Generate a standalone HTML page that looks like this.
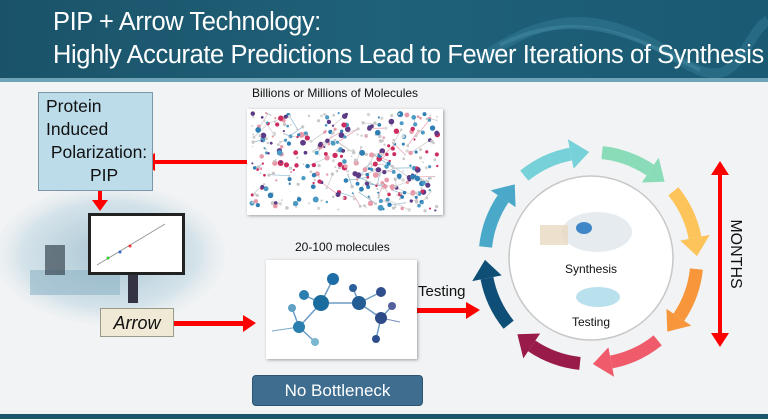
<!DOCTYPE html>
<html><head><meta charset="utf-8">
<style>
*{margin:0;padding:0;box-sizing:border-box}
body{width:768px;height:419px;overflow:hidden;font-family:"Liberation Sans",sans-serif;background:#f1f3f4;position:relative}
.hdr{position:absolute;left:0;top:0;width:768px;height:78px;background:linear-gradient(90deg,#1a5369 0%,#1f6179 50%,#1a5a72 100%)}
.hdr2{position:absolute;left:0;top:78px;width:768px;height:4px;background:#6ea3b8}
.t{position:absolute;left:53px;color:#fff;font-size:24.5px;white-space:nowrap;letter-spacing:-0.4px;transform-origin:0 0}
.lab{position:absolute;font-size:12px;color:#111;white-space:nowrap}
.pip{position:absolute;left:38px;top:92px;width:115px;height:99px;background:#bddcea;border:1px solid #7b98a8;font-size:17.5px;color:#111;line-height:23px;padding:2px 0 0 7px}
.arrowbox{position:absolute;left:100px;top:308px;width:74px;height:29px;background:#efe9d6;border:1px solid #9a9a8a;font-style:italic;font-size:18px;text-align:center;line-height:28px;color:#111}
.btn{position:absolute;left:252px;top:375px;width:171px;height:31px;background:#3e6d90;border:1px solid #2c5574;border-radius:4px;color:#fff;font-size:17px;text-align:center;line-height:30px}
.img{position:absolute;background:#fff;box-shadow:1px 1px 3px rgba(0,0,0,.35)}
</style></head><body>
<div class="hdr"><svg width="768" height="78" style="position:absolute;left:0;top:0"><path d="M480 60 C560 0 620 20 680 60 S740 40 768 20" stroke="#3f8aa3" stroke-width="10" fill="none" opacity=".35"/><path d="M500 45 C580 5 640 40 700 70" stroke="#5aa0b6" stroke-width="4" fill="none" opacity=".3"/></svg></div>
<div class="hdr2"></div>
<div class="t" style="top:8px;transform:scale(1.04,1.05)">PIP + Arrow Technology:</div>
<div class="t" style="top:41px;transform:scale(1.04,1.05)">Highly Accurate Predictions Lead to Fewer Iterations of Synthesis</div>
<div style="position:absolute;left:0;top:414px;width:768px;height:5px;background:#1c566c"></div>

<svg width="768" height="419" style="position:absolute;left:0;top:0" id="s">
<defs><radialGradient id="lg" cx="50%" cy="50%" r="55%"><stop offset="0" stop-color="#a9c6d3"/><stop offset=".7" stop-color="#d5e3ea"/><stop offset="1" stop-color="#f1f3f4" stop-opacity="0"/></radialGradient></defs>
<ellipse cx="110" cy="255" rx="115" ry="70" fill="url(#lg)"/>
<rect x="30" y="270" width="90" height="25" fill="#8fb4c6" opacity=".6"/>
<rect x="45" y="245" width="20" height="30" fill="#3a4a55" opacity=".7"/>
<rect x="128" y="275" width="10" height="28" fill="#334"/>
<rect x="88" y="213" width="97" height="62" fill="#222"/>
<rect x="91" y="216" width="91" height="56" fill="#fff"/>
<line x1="97" y1="265" x2="165" y2="224" stroke="#999" stroke-width="1"/>
<circle cx="130" cy="246" r="1.5" fill="#e33"/><circle cx="120" cy="252" r="1.5" fill="#36c"/><circle cx="108" cy="258" r="1.5" fill="#3c3"/>
<rect x="152" y="160" width="120" height="4" fill="#f00"/><polygon points="155,153 155,171 140,162" fill="#f00"/>
<rect x="98" y="187" width="4" height="14" fill="#f00"/><polygon points="92,200 108,200 100,211" fill="#f00"/>
<rect x="168" y="321" width="76" height="5" fill="#f00"/><polygon points="243,315 243,332 256,323" fill="#f00"/>
<rect x="397" y="308" width="70" height="5" fill="#f00"/><polygon points="466,302 466,319 480,310" fill="#f00"/>
<rect x="718" y="172" width="4" height="164" fill="#f00"/><polygon points="711,175 729,175 720,161" fill="#f00"/><polygon points="711,333 729,333 720,347" fill="#f00"/>
<circle cx="591" cy="258" r="82" fill="#fff" stroke="#c8c8c8" stroke-width="1.5"/>
<g id="ring"></g>
</svg>
<div class="img" style="left:247px;top:109px;width:196px;height:106px"><svg width="196" height="106" id="net"></svg></div>
<div class="img" style="left:266px;top:260px;width:151px;height:99px"><svg width="151" height="99" id="mol"></svg></div>
<svg width="768" height="419" style="position:absolute;left:0;top:0">
<ellipse cx="597" cy="232" rx="35" ry="20" fill="#dfe6ea" opacity=".8"/>
<rect x="540" y="225" width="28" height="20" fill="#e8d9c0" opacity=".8"/>
<ellipse cx="584" cy="228" rx="8" ry="6" fill="#3e86c8"/>
<ellipse cx="598" cy="297" rx="22" ry="10" fill="#a8d8e8" opacity=".8"/>
<text x="591" y="273" text-anchor="middle" font-size="12" font-family="Liberation Sans" fill="#111">Synthesis</text>
<text x="591" y="326" text-anchor="middle" font-size="12" font-family="Liberation Sans" fill="#111">Testing</text>
<text transform="translate(731,254) rotate(90)" text-anchor="middle" font-size="16" font-family="Liberation Sans" fill="#111">MONTHS</text>
<text x="418" y="296" font-size="15" font-family="Liberation Sans" fill="#111">Testing</text>
</svg>
<div class="lab" style="left:252px;top:86px">Billions or Millions of Molecules</div>
<div class="lab" style="left:295px;top:240px">20-100 molecules</div>
<div class="pip">Protein<br>Induced<br>&nbsp;Polarization:<br><span style="padding-left:44px">PIP</span></div>
<div class="arrowbox">Arrow</div>
<div class="btn">No Bottleneck</div>
<script>
var NS="http://www.w3.org/2000/svg";
function el(p,t,a){var e=document.createElementNS(NS,t);for(var k in a)e.setAttribute(k,a[k]);p.appendChild(e);return e;}
var cx=591,cy=258,R=106;
function P(a,r){a=a*Math.PI/180;return [cx+r*Math.sin(a),cy-r*Math.cos(a)];}
var cols=["#76d1d8","#8adcb9","#fdc45c","#f7963b","#ef5b6a","#981b4a","#0e4e77","#4aa8c9"];
var ring=document.getElementById("ring");
for(var i=0;i<8;i++){var a0=-40+45*i+1,a1=a0+38,ab=a1-10;
var s=P(a0,R),e=P(ab,R);
el(ring,"path",{d:"M"+s+" A"+R+" "+R+" 0 0 1 "+e,stroke:cols[i],"stroke-width":13,fill:"none"});
var t=P(a1,R),b1=P(ab,R+15),b2=P(ab,R-15);
el(ring,"polygon",{points:t+" "+b1+" "+b2,fill:cols[i]});}
var seed=7;function rnd(){seed=(seed*16807)%2147483647;return seed/2147483647;}
var net=document.getElementById("net"),pts=[];
var nc=["#cc2d5e","#2f7fb5","#5c3a86","#e89aaa","#c8c8c8","#c8c8c8","#c8c8c8","#4b9ac4","#d8d8d8"];
for(var i=0;i<450;i++){var x=5+rnd()*186,y=4+rnd()*98;pts.push([x,y]);}
for(var k=0;k<3;k++)for(var i=0;i<450;i++){var j=Math.floor(rnd()*450);var a=pts[i],b=pts[j];if(Math.abs(a[0]-b[0])<22&&Math.abs(a[1]-b[1])<16)el(net,"line",{x1:a[0],y1:a[1],x2:b[0],y2:b[1],stroke:rnd()<.5?"#c9c9c9":(rnd()<.5?"#e6a0b0":"#8ab8d4"),"stroke-width":.7});}
for(var i=0;i<450;i++){var c=nc[Math.floor(rnd()*9)];el(net,"circle",{cx:pts[i][0],cy:pts[i][1],r:(c=="#c8c8c8"||c=="#d8d8d8")?0.8+rnd():1+rnd()*2,fill:c});}
var mol=document.getElementById("mol"),ox=266,oy=260;
var N=[[333,279,6,"#1d6ea8"],[304,295,5,"#2a7fae"],[321,303,8,"#1b6c9e"],[292,308,4,"#5fa2c4"],[299,327,6,"#2a7fae"],[315,342,4,"#7ab6d0"],[353,288,4,"#2c5f9a"],[359,303,7,"#245c94"],[381,292,5,"#2f4f8c"],[392,306,4,"#54609c"],[381,318,6,"#2c4b87"],[376,339,4,"#2f4f8c"]];
var E=[[2,0],[2,1],[2,4],[4,3],[4,5],[2,7],[7,6],[7,8],[7,10],[10,9],[10,11]];
el(mol,"line",{x1:299-ox,y1:327-oy,x2:272-ox,y2:331-oy,stroke:"#7aa9c8","stroke-width":1});
el(mol,"line",{x1:381-ox,y1:318-oy,x2:400-ox,y2:322-oy,stroke:"#7a8fbf","stroke-width":1});
E.forEach(function(e){var a=N[e[0]],b=N[e[1]];el(mol,"line",{x1:a[0]-ox,y1:a[1]-oy,x2:b[0]-ox,y2:b[1]-oy,stroke:"#6d9cc4","stroke-width":1.5});});
N.forEach(function(n){el(mol,"circle",{cx:n[0]-ox,cy:n[1]-oy,r:n[2],fill:n[3]});});
</script>
</body></html>
